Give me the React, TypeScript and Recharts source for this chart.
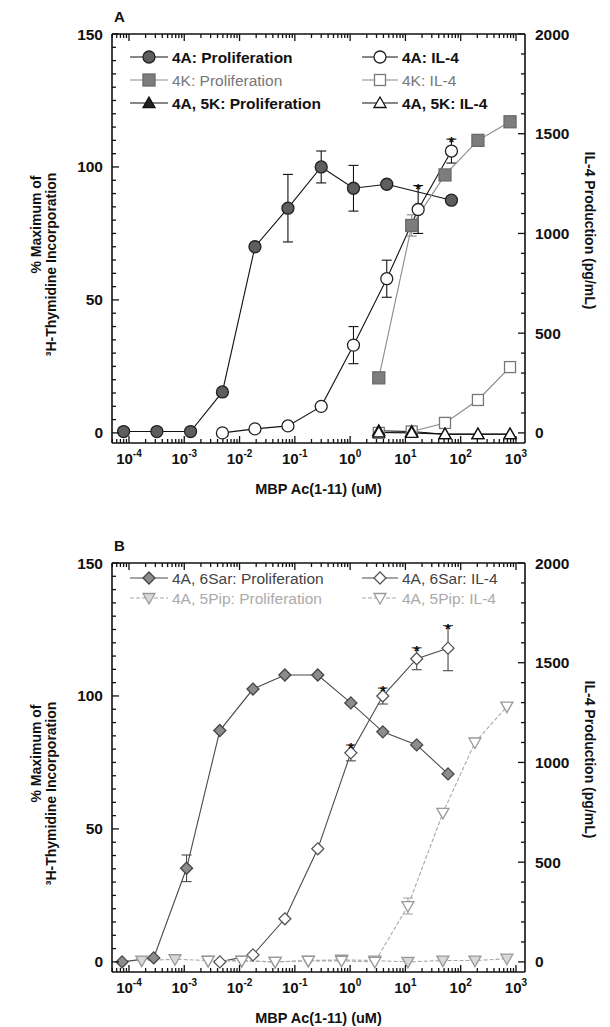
import React from 'react';
import { ComposedChart, Line, XAxis, YAxis, ErrorBar, Scatter } from 'recharts';

const FONT = '"Liberation Sans", Arial, Helvetica, sans-serif';

// ---------- Panel A data ----------
const prolif4A_x = [0.00008, 0.00032, 0.0013, 0.0049, 0.019, 0.075, 0.3, 1.15, 4.6, 68];
const prolif4A_y = [0.5, 0.5, 0.5, 15.4, 70, 84.5, 100, 92, 93.5, 87.5];
const prolif4A_err = [0, 0, 0, 0, 0, 12.7, 6, 8.6, 0, 0];

const il4_4A_x = [0.0049, 0.019, 0.075, 0.3, 1.15, 4.6, 17, 68];
const il4_4A_y = [0, 20, 35, 133, 440, 773, 1120, 1413];
const il4_4A_err = [0, 0, 0, 0, 93, 93, 120, 60];
const il4_4A_star = [0, 0, 0, 0, 0, 0, 1, 1];

const conc4K = [3.3, 13, 52, 205, 780];
const prolif4K_y = [20.7, 78, 97, 110, 117];
const prolif4K_err = [0, 4, 0, 0, 0];
const il4_4K_y = [0, 7, 50, 165, 330];
const prolif5K_y = [0.8, 0.5, -0.5, -0.5, -0.5];
const il4_5K_y = [2, 0, -6, -6, -6];

// ---------- Panel B data ----------
const prolif6Sar_x = [0.000075, 0.00028, 0.0011, 0.0044, 0.0175, 0.066, 0.26, 1.03, 3.9, 16, 59];
const prolif6Sar_y = [0, 1.5, 35.2, 87, 102.6, 107.9, 107.9, 97.4, 86.5, 81.6, 70.7];
const prolif6Sar_err = [0, 0, 5, 0, 0, 0, 0, 0, 0, 0, 0];

const il4_6Sar_x = [0.0044, 0.0175, 0.066, 0.26, 1.03, 3.9, 16, 59];
const il4_6Sar_y = [0, 35, 216, 567, 1048, 1333, 1520, 1573];
const il4_6Sar_err = [0, 0, 0, 0, 40, 40, 55, 113];
const il4_6Sar_star = [0, 0, 0, 0, 1, 1, 1, 1];

const prolif5Pip_x = [0.00017, 0.00068, 0.0027, 0.011, 0.044, 0.175, 0.7, 2.8, 11.1, 47.6, 181, 684];
const prolif5Pip_y = [0.5, 1, 0.5, 0.5, 0, 0.5, 0.8, 0.5, 0, 0.5, 0.5, 1.2];
const il4_5Pip_x = [0.0027, 0.011, 0.044, 0.175, 0.7, 2.8, 11.1, 47.6, 181, 684];
const il4_5Pip_y = [5, 5, 0, 5, 5, 0, 280, 747, 1100, 1280];
const il4_5Pip_err = [0, 0, 0, 0, 0, 0, 40, 0, 0, 0];

// ---------- axes ----------
const X_DOMAIN = [Math.pow(10, -4.307), Math.pow(10, 3.163)];
const X_TICKS: number[] = [];
for (let e = -5; e <= 3; e++) {
  for (let m = 1; m <= 9; m++) {
    const v = m * Math.pow(10, e);
    if (v >= X_DOMAIN[0] && v <= X_DOMAIN[1]) X_TICKS.push(v);
  }
}
const leftMajor = [0, 50, 100, 150];
const LEFT_TICKS: number[] = [];
for (let v = 0; v <= 150; v += 5) LEFT_TICKS.push(v);
const rightMajor = [0, 500, 1000, 1500, 2000];
const RIGHT_TICKS: number[] = [];
for (let v = 0; v <= 2000; v += 100) RIGHT_TICKS.push(v);
const L_DOMAIN = [-3.8, 150];
const R_DOMAIN = [-3.8 * 2000 / 150, 2000];

// ---------- layout ----------
const W = 610;
const H = 515;
const B_OFFSET = 529;
const PLOT = { left: 112, right: 525, top: 34, bottom: 443 };
const YW = 50;
const XH = 40;
const TOPH = 2;
const MARGIN = {
  top: PLOT.top - TOPH,
  left: PLOT.left - YW,
  right: W - PLOT.right - YW,
  bottom: H - PLOT.bottom - XH,
};
const AXIS = { stroke: '#111', strokeWidth: 1.6 };

const isDecade = (v: number) => {
  const lg = Math.log10(v);
  return Math.abs(lg - Math.round(lg)) < 1e-6;
};

const BottomTick = (p: any) => {
  const { x, y, payload } = p;
  const v = payload.value;
  const major = isDecade(v);
  const lg = Math.round(Math.log10(v));
  return (
    <g>
      <line x1={x} x2={x} y1={y} y2={y - (major ? 7 : 4)} stroke="#111" strokeWidth={1.3} />
      {major && (
        <text x={x} y={y + 21} textAnchor="middle" fontFamily={FONT} fontWeight="bold" fontSize={15} fill="#111">
          <tspan>10</tspan>
          <tspan dy={-7} fontSize={10}>{String(lg)}</tspan>
        </text>
      )}
    </g>
  );
};

const TopTick = (p: any) => {
  const { x, y, payload } = p;
  const major = isDecade(payload.value);
  return <line x1={x} x2={x} y1={y} y2={y + (major ? 7 : 4)} stroke="#111" strokeWidth={1.3} />;
};

const LeftTick = (p: any) => {
  const { x, y, payload } = p;
  const v = payload.value;
  const major = leftMajor.includes(v);
  return (
    <g>
      <line x1={x} x2={x + (major ? 7 : 4)} y1={y} y2={y} stroke="#111" strokeWidth={1.3} />
      {major && (
        <text x={x - 9} y={y + 5.5} textAnchor="end" fontFamily={FONT} fontWeight="bold" fontSize={15.5} fill="#111">
          {String(v)}
        </text>
      )}
    </g>
  );
};

const RightTick = (p: any) => {
  const { x, y, payload } = p;
  const v = payload.value;
  const major = rightMajor.includes(v);
  return (
    <g>
      <line x1={x} x2={x - (major ? 7 : 4)} y1={y} y2={y} stroke="#111" strokeWidth={1.3} />
      {major && (
        <text x={x + 10} y={y + 5.5} textAnchor="start" fontFamily={FONT} fontWeight="bold" fontSize={15.5} fill="#111">
          {String(v)}
        </text>
      )}
    </g>
  );
};

// ---------- markers ----------
type MarkerSpec = { shape: string; fill: string; stroke: string; size?: number };

const Marker = ({ cx, cy, m }: { cx: number; cy: number; m: MarkerSpec }) => {
  if (cx == null || cy == null || isNaN(cx) || isNaN(cy)) return null;
  const s = m.size || 6;
  const common = { fill: m.fill, stroke: m.stroke, strokeWidth: 1.3 };
  switch (m.shape) {
    case 'circle':
      return <circle cx={cx} cy={cy} r={s} {...common} />;
    case 'square':
      return <rect x={cx - s} y={cy - s} width={2 * s} height={2 * s} {...common} />;
    case 'triangle':
      return <polygon points={`${cx},${cy - s} ${cx + s},${cy + s * 0.75} ${cx - s},${cy + s * 0.75}`} {...common} />;
    case 'triDown':
      return <polygon points={`${cx - s},${cy - s * 0.75} ${cx + s},${cy - s * 0.75} ${cx},${cy + s}`} {...common} />;
    case 'diamond':
      return <polygon points={`${cx},${cy - s} ${cx + s},${cy} ${cx},${cy + s} ${cx - s},${cy}`} {...common} />;
    default:
      return null;
  }
};

type Series = {
  id: string;
  name: string;
  xs: number[];
  ys: number[];
  errs?: number[];
  stars?: number[];
  axis: 'l' | 'r';
  stroke: string;
  dash?: string;
  marker: MarkerSpec;
  textColor: string;
  bold: boolean;
};

const build = (s: Series) =>
  s.xs.map((x, i) => ({ x, y: s.ys[i], e: s.errs && s.errs[i] ? s.errs[i] : undefined }));

const starData = (s: Series) =>
  s.xs
    .map((x, i) => ({ x, y: s.ys[i] + (s.errs ? s.errs[i] : 0), flag: s.stars ? s.stars[i] : 0 }))
    .filter((d) => d.flag);

const seriesA: Series[] = [
  { id: 'a1', name: '4A: Proliferation', xs: prolif4A_x, ys: prolif4A_y, errs: prolif4A_err, axis: 'l', stroke: '#111', marker: { shape: 'circle', fill: '#5e5e5e', stroke: '#222', size: 6 }, textColor: '#111', bold: true },
  { id: 'a2', name: '4A: IL-4', xs: il4_4A_x, ys: il4_4A_y, errs: il4_4A_err, stars: il4_4A_star, axis: 'r', stroke: '#111', marker: { shape: 'circle', fill: '#fff', stroke: '#222', size: 6 }, textColor: '#111', bold: true },
  { id: 'a3', name: '4K: Proliferation', xs: conc4K, ys: prolif4K_y, errs: prolif4K_err, axis: 'l', stroke: '#8a8a8a', marker: { shape: 'square', fill: '#7d7d7d', stroke: '#6a6a6a', size: 6 }, textColor: '#777', bold: false },
  { id: 'a4', name: '4K: IL-4', xs: conc4K, ys: il4_4K_y, axis: 'r', stroke: '#8a8a8a', marker: { shape: 'square', fill: '#fff', stroke: '#777', size: 5.5 }, textColor: '#777', bold: false },
  { id: 'a5', name: '4A, 5K: Proliferation', xs: conc4K, ys: prolif5K_y, axis: 'l', stroke: '#111', marker: { shape: 'triangle', fill: '#222', stroke: '#111', size: 6 }, textColor: '#111', bold: true },
  { id: 'a6', name: '4A, 5K: IL-4', xs: conc4K, ys: il4_5K_y, axis: 'r', stroke: '#111', marker: { shape: 'triangle', fill: '#fff', stroke: '#111', size: 6 }, textColor: '#111', bold: true },
];

const seriesB: Series[] = [
  { id: 'b1', name: '4A, 6Sar: Proliferation', xs: prolif6Sar_x, ys: prolif6Sar_y, errs: prolif6Sar_err, axis: 'l', stroke: '#4a4a4a', marker: { shape: 'diamond', fill: '#8c8c8c', stroke: '#444', size: 6 }, textColor: '#444', bold: false },
  { id: 'b2', name: '4A, 6Sar: IL-4', xs: il4_6Sar_x, ys: il4_6Sar_y, errs: il4_6Sar_err, stars: il4_6Sar_star, axis: 'r', stroke: '#4a4a4a', marker: { shape: 'diamond', fill: '#fff', stroke: '#555', size: 6 }, textColor: '#444', bold: false },
  { id: 'b3', name: '4A, 5Pip: Proliferation', xs: prolif5Pip_x, ys: prolif5Pip_y, axis: 'l', stroke: '#a8a8a8', dash: '4 2', marker: { shape: 'triDown', fill: '#d8d8d8', stroke: '#999', size: 6 }, textColor: '#aaa', bold: false },
  { id: 'b4', name: '4A, 5Pip: IL-4', xs: il4_5Pip_x, ys: il4_5Pip_y, errs: il4_5Pip_err, axis: 'r', stroke: '#a8a8a8', dash: '4 2', marker: { shape: 'triDown', fill: '#fff', stroke: '#999', size: 6 }, textColor: '#aaa', bold: false },
];

const StarShape = (p: any) => {
  const { cx, cy } = p;
  if (cx == null || cy == null) return null;
  return (
    <text x={cx} y={cy + 8} textAnchor="middle" fontFamily={FONT} fontWeight="bold" fontSize={15} fill="#111" stroke="none">
      *
    </text>
  );
};

const Panel = ({ series }: { series: Series[] }) => (
  <ComposedChart width={W} height={H} margin={MARGIN}>
    <XAxis xAxisId="b" dataKey="x" type="number" scale="log" domain={X_DOMAIN} allowDataOverflow ticks={X_TICKS} interval={0} tickSize={0} tickMargin={0} tickLine={false} axisLine={AXIS} height={XH} orientation="bottom" tick={(p: any) => <BottomTick {...p} />} />
    <XAxis xAxisId="t" dataKey="x" type="number" scale="log" domain={X_DOMAIN} allowDataOverflow ticks={X_TICKS} interval={0} tickSize={0} tickMargin={0} tickLine={false} axisLine={AXIS} height={TOPH} orientation="top" tick={(p: any) => <TopTick {...p} />} />
    <YAxis yAxisId="l" type="number" domain={L_DOMAIN} allowDataOverflow ticks={LEFT_TICKS} interval={0} tickSize={0} tickMargin={0} tickLine={false} axisLine={AXIS} width={YW} orientation="left" tick={(p: any) => <LeftTick {...p} />} />
    <YAxis yAxisId="r" type="number" domain={R_DOMAIN} allowDataOverflow ticks={RIGHT_TICKS} interval={0} tickSize={0} tickMargin={0} tickLine={false} axisLine={AXIS} width={YW} orientation="right" tick={(p: any) => <RightTick {...p} />} />
    {series.map((s) => (
      <Line
        key={s.id}
        xAxisId="b"
        yAxisId={s.axis}
        data={build(s)}
        dataKey="y"
        type="linear"
        stroke={s.stroke}
        strokeWidth={1.1}
        strokeDasharray={s.dash}
        isAnimationActive={false}
        activeDot={false}
        dot={(p: any) => <Marker key={`${s.id}-${p.index}`} cx={p.cx} cy={p.cy} m={s.marker} />}
      >
        {s.errs && <ErrorBar dataKey="e" direction="y" width={5} stroke={s.stroke} strokeWidth={1.1} />}
      </Line>
    ))}
    {series
      .filter((s) => s.stars)
      .map((s) => (
        <Scatter key={`st-${s.id}`} xAxisId="b" yAxisId={s.axis} data={starData(s)} dataKey="y" fill="#111" isAnimationActive={false} shape={(p: any) => <StarShape {...p} />} />
      ))}
  </ComposedChart>
);

const LegendOverlay = ({ series, top, rows, size }: { series: Series[]; top: number; rows: number[]; size: number }) => {
  const cols = [
    { line: [130, 168], text: 172 },
    { line: [362, 398], text: 402 },
  ];
  return (
    <g>
      {series.map((s, i) => {
        const r = Math.floor(i / 2);
        const c = i % 2;
        const y = top + rows[r];
        const col = cols[c];
        const mx = (col.line[0] + col.line[1]) / 2;
        return (
          <g key={s.id}>
            <line x1={col.line[0]} x2={col.line[1]} y1={y} y2={y} stroke={s.stroke} strokeWidth={1.1} strokeDasharray={s.dash} />
            <Marker cx={mx} cy={y} m={s.marker} />
            <text x={col.text} y={y + 5.5} fontFamily={FONT} fontSize={size} fontWeight={s.bold ? 'bold' : 'normal'} fill={s.textColor}>
              {s.name}
            </text>
          </g>
        );
      })}
    </g>
  );
};

const Titles = ({ top, letter }: { top: number; letter: string }) => {
  const cx = (PLOT.left + PLOT.right) / 2;
  const cy = top + (PLOT.top + PLOT.bottom) / 2;
  const t = { fontFamily: FONT, fontWeight: 'bold' as const, fill: '#111' };
  return (
    <g>
      <text x={PLOT.left + 2} y={top + 22} fontSize={15} {...t}>{letter}</text>
      <text x={cx} y={top + 494} fontSize={14.5} textAnchor="middle" {...t}>MBP Ac(1-11) (uM)</text>
      <text x={41} y={cy - 14} fontSize={14} textAnchor="middle" transform={`rotate(-90 41 ${cy - 14})`} {...t}>% Maximum of</text>
      <text x={56} y={cy + 26} fontSize={14} textAnchor="middle" transform={`rotate(-90 56 ${cy + 26})`} {...t}>³H-Thymidine Incorporation</text>
      <text x={585} y={cy - 8} fontSize={14} textAnchor="middle" transform={`rotate(90 585 ${cy - 8})`} {...t}>IL-4 Production (pg/mL)</text>
    </g>
  );
};

export default function App() {
  return (
    <div style={{ position: 'absolute', left: 0, top: 0, width: W, height: 1027, background: '#fff', overflow: 'hidden' }}>
      <div style={{ position: 'absolute', left: 0, top: 0 }}>
        <Panel series={seriesA} />
      </div>
      <div style={{ position: 'absolute', left: 0, top: B_OFFSET }}>
        <Panel series={seriesB} />
      </div>
      <svg width={W} height={1027} style={{ position: 'absolute', left: 0, top: 0, pointerEvents: 'none' }}>
        <Titles top={0} letter="A" />
        <Titles top={B_OFFSET} letter="B" />
        <LegendOverlay series={seriesA} top={0} rows={[57, 80, 103]} size={15.5} />
        <LegendOverlay series={seriesB} top={B_OFFSET} rows={[49, 69]} size={15.5} />
      </svg>
    </div>
  );
}
